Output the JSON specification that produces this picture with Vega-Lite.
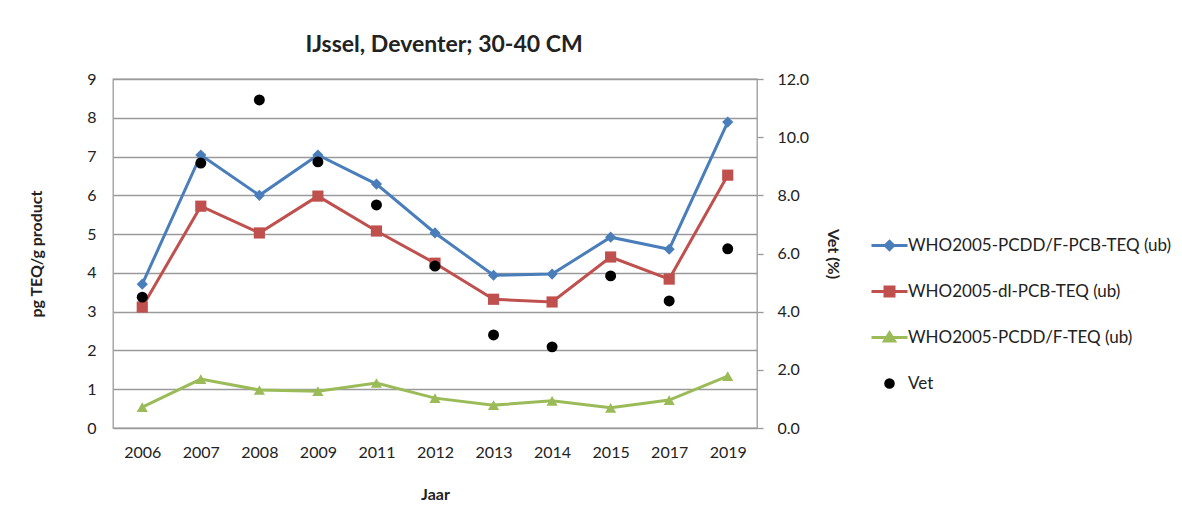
{
  "$schema": "https://vega.github.io/schema/vega-lite/v6.json",
  "width": 644,
  "height": 349,
  "autosize": {"type": "none"},
  "padding": {"left": 113, "top": 79, "right": 425, "bottom": 95},
  "background": "white",
  "config": {
    "font": "Lato",
    "view": {"stroke": "#9a9a9a", "strokeWidth": 1.3},
    "axis": {"labelFont": "Lato", "titleFont": "Lato", "labelColor": "#222", "titleColor": "#222", "labelFontSize": 16, "titleFontSize": 16, "titleFontWeight": "bold", "domain": false}
  },
  "title": {"text": "IJssel, Deventer; 30-40 CM", "font": "Lato", "fontSize": 23, "fontWeight": "bold", "color": "#222", "anchor": "middle", "offset": 14, "dx": 9},
  "data": {"values": [
    {"jaar": "2006", "series": "WHO2005-PCDD/F-PCB-TEQ (ub)", "value": 3.71},
    {"jaar": "2007", "series": "WHO2005-PCDD/F-PCB-TEQ (ub)", "value": 7.04},
    {"jaar": "2008", "series": "WHO2005-PCDD/F-PCB-TEQ (ub)", "value": 6.0},
    {"jaar": "2009", "series": "WHO2005-PCDD/F-PCB-TEQ (ub)", "value": 7.04},
    {"jaar": "2011", "series": "WHO2005-PCDD/F-PCB-TEQ (ub)", "value": 6.29},
    {"jaar": "2012", "series": "WHO2005-PCDD/F-PCB-TEQ (ub)", "value": 5.03},
    {"jaar": "2013", "series": "WHO2005-PCDD/F-PCB-TEQ (ub)", "value": 3.94},
    {"jaar": "2014", "series": "WHO2005-PCDD/F-PCB-TEQ (ub)", "value": 3.97},
    {"jaar": "2015", "series": "WHO2005-PCDD/F-PCB-TEQ (ub)", "value": 4.92},
    {"jaar": "2017", "series": "WHO2005-PCDD/F-PCB-TEQ (ub)", "value": 4.61},
    {"jaar": "2019", "series": "WHO2005-PCDD/F-PCB-TEQ (ub)", "value": 7.89},
    {"jaar": "2006", "series": "WHO2005-dl-PCB-TEQ (ub)", "value": 3.12},
    {"jaar": "2007", "series": "WHO2005-dl-PCB-TEQ (ub)", "value": 5.72},
    {"jaar": "2008", "series": "WHO2005-dl-PCB-TEQ (ub)", "value": 5.03},
    {"jaar": "2009", "series": "WHO2005-dl-PCB-TEQ (ub)", "value": 5.98},
    {"jaar": "2011", "series": "WHO2005-dl-PCB-TEQ (ub)", "value": 5.08},
    {"jaar": "2012", "series": "WHO2005-dl-PCB-TEQ (ub)", "value": 4.25},
    {"jaar": "2013", "series": "WHO2005-dl-PCB-TEQ (ub)", "value": 3.32},
    {"jaar": "2014", "series": "WHO2005-dl-PCB-TEQ (ub)", "value": 3.25},
    {"jaar": "2015", "series": "WHO2005-dl-PCB-TEQ (ub)", "value": 4.41},
    {"jaar": "2017", "series": "WHO2005-dl-PCB-TEQ (ub)", "value": 3.84},
    {"jaar": "2019", "series": "WHO2005-dl-PCB-TEQ (ub)", "value": 6.52},
    {"jaar": "2006", "series": "WHO2005-PCDD/F-TEQ (ub)", "value": 0.54},
    {"jaar": "2007", "series": "WHO2005-PCDD/F-TEQ (ub)", "value": 1.26},
    {"jaar": "2008", "series": "WHO2005-PCDD/F-TEQ (ub)", "value": 0.98},
    {"jaar": "2009", "series": "WHO2005-PCDD/F-TEQ (ub)", "value": 0.95},
    {"jaar": "2011", "series": "WHO2005-PCDD/F-TEQ (ub)", "value": 1.16},
    {"jaar": "2012", "series": "WHO2005-PCDD/F-TEQ (ub)", "value": 0.77},
    {"jaar": "2013", "series": "WHO2005-PCDD/F-TEQ (ub)", "value": 0.59},
    {"jaar": "2014", "series": "WHO2005-PCDD/F-TEQ (ub)", "value": 0.70},
    {"jaar": "2015", "series": "WHO2005-PCDD/F-TEQ (ub)", "value": 0.52},
    {"jaar": "2017", "series": "WHO2005-PCDD/F-TEQ (ub)", "value": 0.72},
    {"jaar": "2019", "series": "WHO2005-PCDD/F-TEQ (ub)", "value": 1.34},
    {"jaar": "2006", "series": "Vet", "value": 4.5},
    {"jaar": "2007", "series": "Vet", "value": 9.11},
    {"jaar": "2008", "series": "Vet", "value": 11.28},
    {"jaar": "2009", "series": "Vet", "value": 9.15},
    {"jaar": "2011", "series": "Vet", "value": 7.67},
    {"jaar": "2012", "series": "Vet", "value": 5.57},
    {"jaar": "2013", "series": "Vet", "value": 3.2},
    {"jaar": "2014", "series": "Vet", "value": 2.79},
    {"jaar": "2015", "series": "Vet", "value": 5.23},
    {"jaar": "2017", "series": "Vet", "value": 4.37},
    {"jaar": "2019", "series": "Vet", "value": 6.16}
  ]},
  "encoding": {
    "x": {"field": "jaar", "type": "ordinal", "title": "Jaar",
      "scale": {"paddingInner": 0, "paddingOuter": 0},
      "axis": {"labelAngle": 0, "ticks": false, "labelPadding": 16, "titlePadding": 26, "grid": false}}
  },
  "layer": [
    {
      "transform": [{"filter": "datum.series !== 'Vet'"}],
      "encoding": {
        "y": {"field": "value", "type": "quantitative", "title": "pg TEQ/g product",
          "scale": {"domain": [0, 9], "nice": false},
          "axis": {"values": [0, 1, 2, 3, 4, 5, 6, 7, 8, 9], "labelOverlap": false, "ticks": false, "labelPadding": 17, "titlePadding": 42, "grid": true, "gridColor": "#9a9a9a", "gridWidth": 1.3}},
        "detail": {"field": "series", "type": "nominal"},
        "color": {"condition": [
          {"test": "datum.series === 'WHO2005-dl-PCB-TEQ (ub)'", "value": "#c0504d"},
          {"test": "datum.series === 'WHO2005-PCDD/F-TEQ (ub)'", "value": "#9bbb59"}
        ], "value": "#4a7ebb"}
      },
      "layer": [
        {
          "mark": {"type": "line", "strokeWidth": 3}
        },
        {
          "mark": {"type": "point", "filled": true, "opacity": 1, "size": 125},
          "encoding": {
            "shape": {"condition": [
              {"test": "datum.series === 'WHO2005-dl-PCB-TEQ (ub)'", "value": "square"},
              {"test": "datum.series === 'WHO2005-PCDD/F-TEQ (ub)'", "value": "triangle-up"}
            ], "value": "diamond"}
          }
        }
      ]
    },
    {
      "transform": [{"filter": "datum.series === 'Vet'"}],
      "mark": {"type": "circle", "opacity": 1, "size": 120},
      "encoding": {
        "y": {"field": "value", "type": "quantitative", "title": "Vet (%)",
          "scale": {"domain": [0, 12], "nice": false},
          "axis": {"orient": "right", "values": [0, 2, 4, 6, 8, 10, 12], "format": ".1f", "grid": false, "ticks": true, "tickSize": 6, "tickColor": "#9a9a9a", "tickWidth": 1.3, "labelPadding": 14, "titlePadding": 16}},
        "color": {"field": "series", "type": "nominal",
          "scale": {"domain": ["WHO2005-PCDD/F-PCB-TEQ (ub)", "WHO2005-dl-PCB-TEQ (ub)", "WHO2005-PCDD/F-TEQ (ub)", "Vet"],
                    "range": ["#4a7ebb", "#c0504d", "#9bbb59", "#000000"]},
          "legend": {
            "title": null, "orient": "none", "legendX": 757, "legendY": 147, "padding": 0,
            "labelFont": "Lato", "labelFontSize": 17, "labelColor": "#222", "labelOffset": -1, "labelLimit": 0, "rowPadding": 16, "symbolSize": 1296,
            "symbolStrokeWidth": 3,
            "symbolStrokeColor": {"expr": "scale('color', datum.value)"},
            "symbolType": {"expr": "datum.value === 'Vet' ? 'M0.21,0A0.21,0.21,0,1,1,-0.21,0A0.21,0.21,0,1,1,0.21,0Z' : datum.value === 'WHO2005-dl-PCB-TEQ (ub)' ? 'M-1,0H1M-0.25,-0.25H0.25V0.25H-0.25Z' : datum.value === 'WHO2005-PCDD/F-TEQ (ub)' ? 'M-1,0H1M0,-0.26L0.28,0.2H-0.28Z' : 'M-1,0H1M0,-0.23L0.23,0L0,0.23L-0.23,0Z'"}
          }
        }
      }
    }
  ],
  "resolve": {"scale": {"y": "independent"}}
}
